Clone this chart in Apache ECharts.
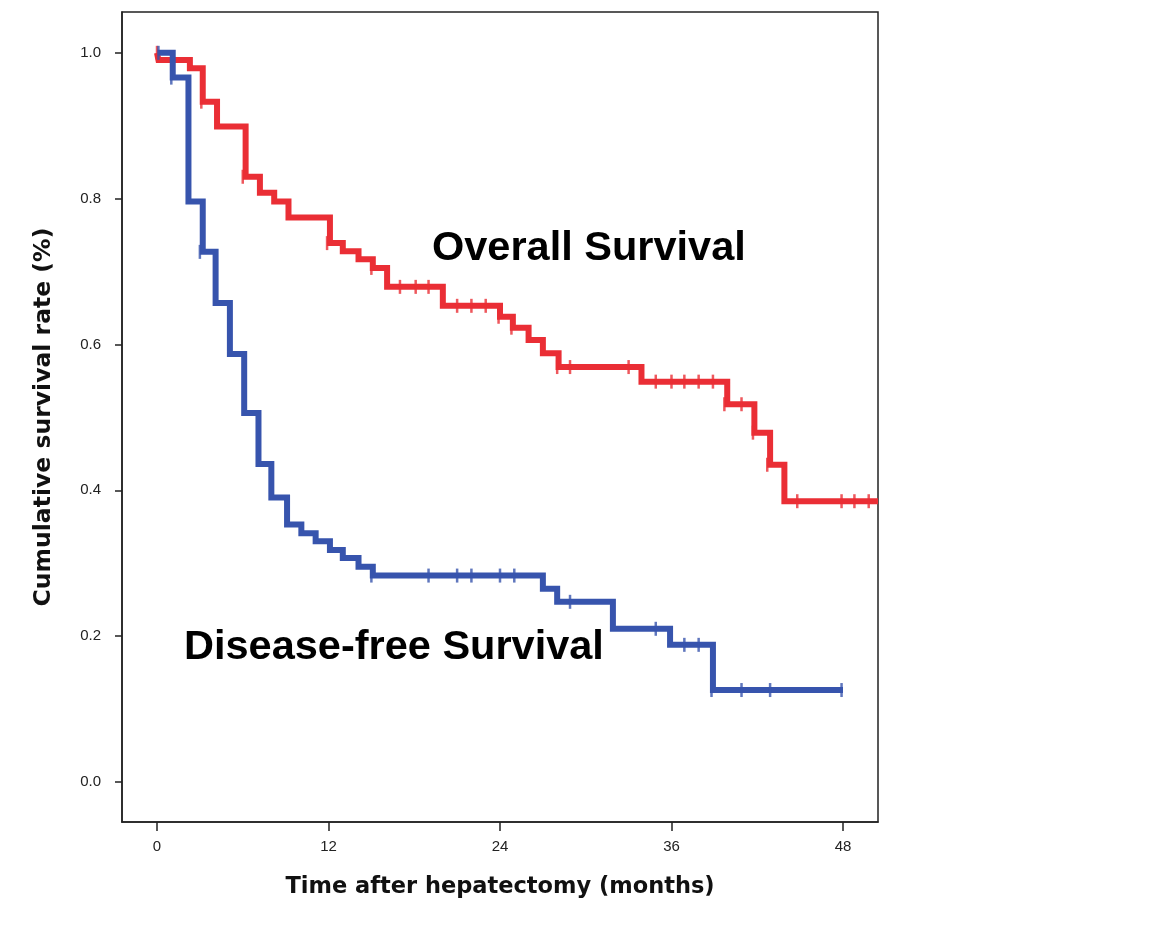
<!DOCTYPE html>
<html>
<head>
<meta charset="utf-8">
<script src="https://cdn.jsdelivr.net/npm/echarts@6/dist/echarts.min.js"></script>
<style>
html,body{margin:0;padding:0;background:#fff;}
#chart{width:1174px;height:941px;}
</style>
</head>
<body>
<div id="chart"></div>
<script>
// ---- Data ----
var xTickValues = [0, 12, 24, 36, 48];
var yTickValues = [0, 0.2, 0.4, 0.6, 0.8, 1.0];

// Overall survival: event times (months) and survival after each step
var osTimes = [0, 0.1, 2.3, 3.2, 4.2, 6.2, 7.2, 8.2, 9.2, 12.1, 13.0, 14.1, 15.1, 16.1, 20.0, 24.0, 24.9, 26.0, 27.0, 28.1, 33.9, 39.9, 41.8, 42.9, 43.9, 50.45];
var osSurv  = [1.0, 0.99, 0.979, 0.933, 0.899, 0.83, 0.808, 0.796, 0.774, 0.739, 0.728, 0.717, 0.705, 0.679, 0.653, 0.638, 0.623, 0.606, 0.588, 0.569, 0.549, 0.518, 0.479, 0.435, 0.385, 0.385];
// Overall survival censored observations
var osCensorTimes = [0, 3.1, 6.0, 11.9, 15.0, 17.0, 18.1, 19.0, 21.0, 22.0, 23.0, 23.9, 24.8, 28.0, 28.9, 33.0, 34.9, 36.0, 36.9, 37.9, 38.9, 39.7, 40.9, 41.7, 42.7, 44.8, 47.9, 48.8, 49.8];
var osCensorSurv  = [1.0, 0.933, 0.83, 0.739, 0.705, 0.679, 0.679, 0.679, 0.653, 0.653, 0.653, 0.638, 0.623, 0.569, 0.569, 0.569, 0.549, 0.549, 0.549, 0.549, 0.549, 0.518, 0.518, 0.479, 0.435, 0.385, 0.385, 0.385, 0.385];

// Disease-free survival
var dfsTimes = [0, 1.1, 2.2, 3.2, 4.1, 5.1, 6.1, 7.1, 8.0, 9.1, 10.1, 11.1, 12.1, 13.0, 14.1, 15.1, 27.0, 28.0, 31.9, 35.9, 38.9, 48.0];
var dfsSurv  = [1.0, 0.966, 0.796, 0.727, 0.657, 0.587, 0.506, 0.436, 0.39, 0.353, 0.341, 0.33, 0.318, 0.307, 0.295, 0.283, 0.265, 0.247, 0.21, 0.188, 0.126, 0.126];
var dfsCensorTimes = [0.1, 1.0, 3.0, 15.0, 19.0, 21.0, 22.0, 24.0, 25.0, 28.9, 34.9, 36.9, 37.9, 38.8, 40.9, 42.9, 47.9];
var dfsCensorSurv  = [1.0, 0.966, 0.727, 0.283, 0.283, 0.283, 0.283, 0.283, 0.283, 0.247, 0.21, 0.188, 0.188, 0.126, 0.126, 0.126, 0.126];

var labelOS = 'Overall Survival';
var labelDFS = 'Disease-free Survival';
var xTitle = 'Time after hepatectomy (months)';
var yTitle = 'Cumulative survival rate (%)';

// ---- Build ----
function pairs(a, b) { return a.map(function (v, i) { return [v, b[i]]; }); }

var RED = '#EA2E35';
var BLUE = '#3754AD';

var chart = echarts.init(document.getElementById('chart'), null, { renderer: 'canvas' });
chart.setOption({
  animation: false,
  backgroundColor: '#ffffff',
  grid: {
    left: 122, right: 296, top: 12, bottom: 119,
    show: true, borderColor: '#222', borderWidth: 1.5, backgroundColor: 'transparent'
  },
  xAxis: {
    type: 'value',
    min: -2.45, max: 50.45,
    name: xTitle,
    nameLocation: 'middle',
    nameGap: 54,
    nameTextStyle: { fontFamily: 'DejaVu Sans', fontWeight: 'bold', fontSize: 22.5, color: '#111' },
    axisLine: { show: true, onZero: false, lineStyle: { color: '#222', width: 1.5 } },
    axisTick: { show: true, length: 9, customValues: xTickValues, lineStyle: { color: '#222', width: 1.5 } },
    axisLabel: { customValues: xTickValues, margin: 17, fontFamily: 'Liberation Sans', fontSize: 15, color: '#222' },
    splitLine: { show: false }
  },
  yAxis: {
    type: 'value',
    min: -0.055, max: 1.056,
    name: yTitle,
    nameLocation: 'middle',
    nameGap: 66,
    nameTextStyle: { fontFamily: 'DejaVu Sans', fontWeight: 'bold', fontSize: 23.5, color: '#111' },
    axisLine: { show: true, onZero: false, lineStyle: { color: '#222', width: 1.5 } },
    axisTick: { show: true, length: 7, customValues: yTickValues, lineStyle: { color: '#222', width: 1.5 } },
    axisLabel: {
      customValues: yTickValues, margin: 21, fontFamily: 'Liberation Sans', fontSize: 15, color: '#222',
      formatter: function (v) { return v.toFixed(1); }
    },
    splitLine: { show: false }
  },
  graphic: [
    { type: 'text', left: 432, top: 228, z: 100,
      style: { text: labelOS, font: 'bold 41.5px "Liberation Sans", Arial, sans-serif', fill: '#000' } },
    { type: 'text', left: 184, top: 627, z: 100,
      style: { text: labelDFS, font: 'bold 41.5px "Liberation Sans", Arial, sans-serif', fill: '#000' } }
  ],
  series: [
    {
      name: 'Overall Survival', type: 'line', step: 'end', showSymbol: false, symbol: 'none',
      data: pairs(osTimes, osSurv),
      lineStyle: { color: RED, width: 6, join: 'miter', cap: 'butt' }, z: 3
    },
    {
      name: 'Disease-free Survival', type: 'line', step: 'end', showSymbol: false, symbol: 'none',
      data: pairs(dfsTimes, dfsSurv),
      lineStyle: { color: BLUE, width: 6, join: 'miter', cap: 'butt' }, z: 3
    },
    {
      name: 'OS censored', type: 'scatter', symbol: 'rect', symbolSize: [2.5, 14],
      data: pairs(osCensorTimes, osCensorSurv),
      itemStyle: { color: RED }, z: 4
    },
    {
      name: 'DFS censored', type: 'scatter', symbol: 'rect', symbolSize: [2.5, 14],
      data: pairs(dfsCensorTimes, dfsCensorSurv),
      itemStyle: { color: BLUE }, z: 4
    }
  ]
});
</script>
</body>
</html>
